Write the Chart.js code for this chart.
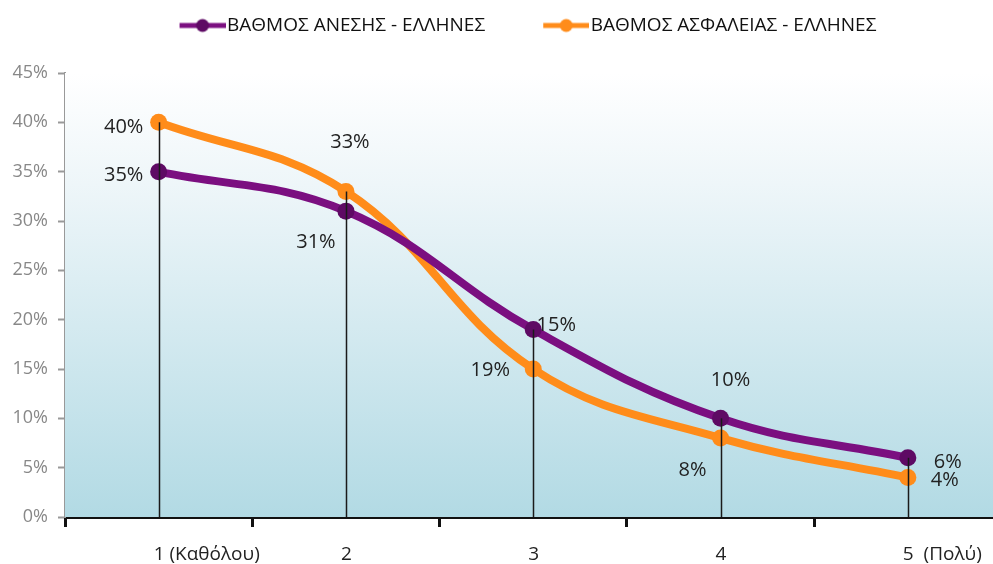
<!DOCTYPE html>
<html>
<head>
<meta charset="utf-8">
<script src="https://cdn.jsdelivr.net/npm/chart.js@4.4.1/dist/chart.umd.min.js"></script>
<style>
  html, body { margin: 0; padding: 0; background: #fff; overflow: hidden; }
  #wrap { width: 1010px; height: 564px; }
</style>
</head>
<body>
<div id="wrap"><canvas id="chart" width="1010" height="564"></canvas></div>
<script>
// Βαθμός άνεσης / ασφάλειας (κλίμακα 1-5)
const categories = ["1 (Καθόλου)", "2", "3", "4", "5  (Πολύ)"];
const aneshValues = [35, 31, 19, 10, 6];
const asfaleiaValues = [40, 33, 15, 8, 4];
const yTicks = [0, 5, 10, 15, 20, 25, 30, 35, 40, 45];

// where each value label sits relative to its point (px)
const aneshLabelOffsets = [[-35, 4], [-30, 31], [-43, 41], [10, -38], [40, 4]];
const asfaleiaLabelOffsets = [[-35, 5], [4, -49], [23, -44], [-28, 32], [37, 3]];

const PURPLE = "#7b0f80";
const PURPLE_DARK = "#5e0a64";
const ORANGE = "#ff8c1a";
const FONT = "'Open Sans', 'Noto Sans', sans-serif";

// legend marker: short line with a dot, drawn at the right of a wider
// transparent image so the items get spaced out horizontally
function legendMarker(color, dot) {
  const c = document.createElement("canvas");
  c.width = 100; c.height = 16;
  const g = c.getContext("2d");
  g.strokeStyle = color;
  g.lineWidth = 5;
  g.beginPath(); g.moveTo(54, 8); g.lineTo(100, 8); g.stroke();
  g.fillStyle = dot;
  g.beginPath(); g.arc(77, 8, 6.5, 0, Math.PI * 2); g.fill();
  return c;
}
const markers = [legendMarker(PURPLE, PURPLE_DARK), legendMarker(ORANGE, ORANGE)];

// extra space between legend and plot
const legendGap = {
  id: "legendGap",
  afterInit(chart) {
    const fit = chart.legend.fit;
    chart.legend.fit = function () {
      fit.call(this);
      this.height += 28;
    };
  }
};

const plotBackground = {
  id: "plotBackground",
  beforeDatasetsDraw(chart) {
    const { ctx, chartArea: a } = chart;
    const grad = ctx.createLinearGradient(0, a.top, 0, a.bottom);
    grad.addColorStop(0, "#ffffff");
    grad.addColorStop(0.25, "#eef6f9");
    grad.addColorStop(1, "#b2dae4");
    ctx.save();
    ctx.fillStyle = grad;
    ctx.fillRect(a.left, a.top, a.right - a.left, a.bottom - a.top);
    ctx.restore();
  }
};

// thin drop lines from the higher point of each category down to 0
const dropLines = {
  id: "dropLines",
  afterDatasetsDraw(chart) {
    const { ctx, scales: { x, y } } = chart;
    ctx.save();
    ctx.strokeStyle = "#1a1a1a";
    ctx.lineWidth = 1.5;
    categories.forEach((_, i) => {
      const top = Math.max(aneshValues[i], asfaleiaValues[i]);
      const px = Math.round(x.getPixelForValue(i)) + 0.5;
      ctx.beginPath();
      ctx.moveTo(px, y.getPixelForValue(top));
      ctx.lineTo(px, y.getPixelForValue(0));
      ctx.stroke();
    });
    ctx.restore();
  }
};

const valueLabels = {
  id: "valueLabels",
  afterDatasetsDraw(chart) {
    const { ctx } = chart;
    const offsets = [aneshLabelOffsets, asfaleiaLabelOffsets];
    ctx.save();
    ctx.font = "20px " + FONT;
    ctx.fillStyle = "#222";
    ctx.textAlign = "center";
    ctx.textBaseline = "middle";
    chart.data.datasets.forEach((ds, d) => {
      const meta = chart.getDatasetMeta(d);
      meta.data.forEach((pt, i) => {
        const [dx, dy] = offsets[d][i];
        ctx.fillText(ds.data[i] + "%", pt.x + dx, pt.y + dy);
      });
    });
    ctx.restore();
  }
};

new Chart(document.getElementById("chart"), {
  type: "line",
  data: {
    labels: categories,
    datasets: [
      {
        label: "ΒΑΘΜΟΣ ΑΝΕΣΗΣ - ΕΛΛΗΝΕΣ",
        data: aneshValues,
        borderColor: PURPLE,
        backgroundColor: PURPLE_DARK,
        pointBackgroundColor: PURPLE_DARK,
        pointBorderWidth: 0,
        pointRadius: 8.5,
        borderWidth: 8,
        tension: 0.4
      },
      {
        label: "ΒΑΘΜΟΣ ΑΣΦΑΛΕΙΑΣ - ΕΛΛΗΝΕΣ",
        data: asfaleiaValues,
        borderColor: ORANGE,
        backgroundColor: ORANGE,
        pointBackgroundColor: ORANGE,
        pointBorderWidth: 0,
        pointRadius: 8.5,
        borderWidth: 8,
        tension: 0.4
      }
    ]
  },
  options: {
    responsive: false,
    animation: false,
    layout: { padding: { top: 4, left: 0, right: 0, bottom: 0 } },
    plugins: {
      tooltip: { enabled: false },
      legend: {
        position: "top",
        align: "center",
        labels: {
          usePointStyle: true,
          pointStyleWidth: 84,
          boxHeight: 16,
          padding: 12,
          color: "#111",
          font: { family: FONT, size: 19 },
          generateLabels(chart) {
            const items = Chart.defaults.plugins.legend.labels.generateLabels(chart);
            items.forEach((it, i) => { it.pointStyle = markers[i]; });
            return items;
          }
        }
      }
    },
    scales: {
      x: {
        offset: true,
        grid: {
          offset: true,
          drawOnChartArea: false,
          drawTicks: true,
          tickLength: 10,
          tickWidth: 3,
          tickColor: "#111"
        },
        border: { color: "#111", width: 3 },
        ticks: {
          align: "start",
          labelOffset: -5,
          padding: 16,
          color: "#222",
          font: { family: FONT, size: 19 }
        },
        afterFit(scale) {
          scale.height = 47;
          scale.paddingLeft = 0;
          scale.paddingRight = 0;
        }
      },
      y: {
        min: 0,
        max: 45,
        afterBuildTicks(scale) { scale.ticks = yTicks.map(v => ({ value: v })); },
        grid: {
          drawOnChartArea: false,
          drawTicks: true,
          tickLength: 7,
          tickColor: "#999",
          tickWidth: 2
        },
        border: { color: "#999", width: 2 },
        ticks: {
          padding: 10,
          color: "#888",
          font: { family: FONT, size: 18 },
          callback: v => v + "%"
        },
        afterFit(scale) { scale.width = 65; }
      }
    }
  },
  plugins: [legendGap, plotBackground, dropLines, valueLabels]
});
</script>
</body>
</html>
